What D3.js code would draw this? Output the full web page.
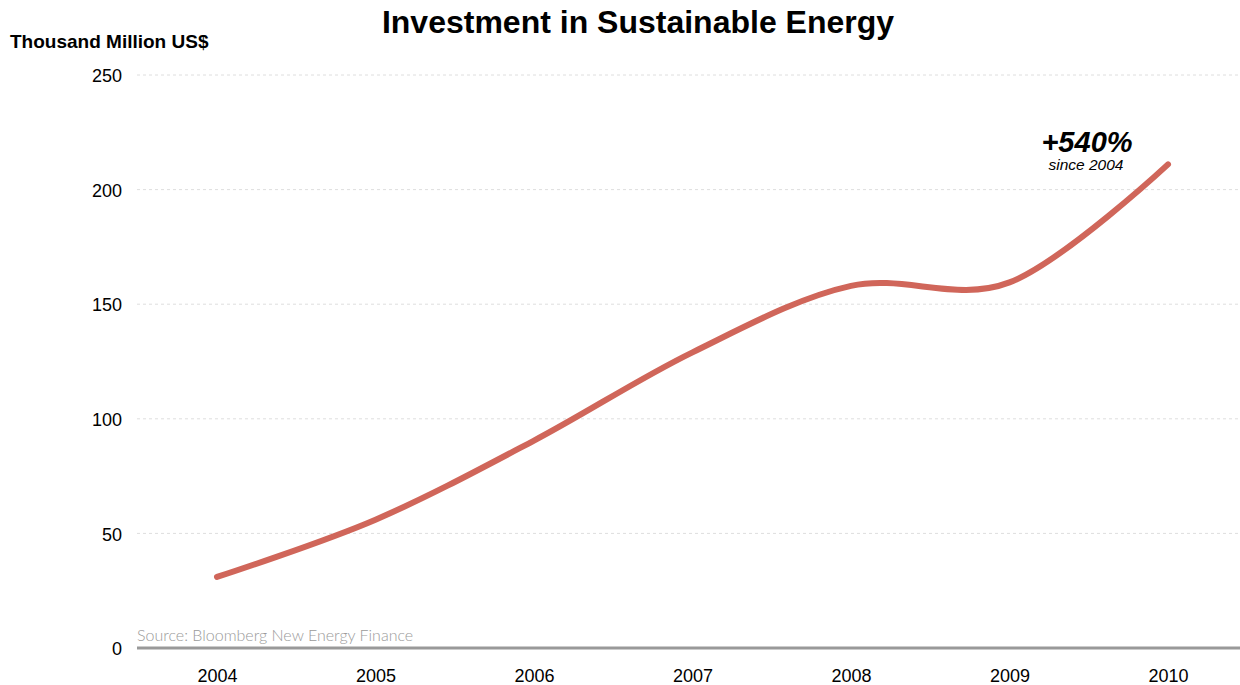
<!DOCTYPE html>
<html><head><meta charset="utf-8">
<script src="https://cdn.jsdelivr.net/npm/d3@7"></script>
<style>body{margin:0;background:#fff}svg{display:block}</style>
</head><body>
<script>
const years = ["2004","2005","2006","2007","2008","2009","2010"];
const investment = [31, 56, 90.5, 129, 158, 159.5, 211];
const yTicks = [0, 50, 100, 150, 200, 250];

const W = 1240, H = 685;
const svg = d3.select("body").append("svg").attr("width", W).attr("height", H);
const font = "Liberation Sans, Arial, sans-serif";

const x = d3.scalePoint().domain(years).range([217, 1168]);
const y = d3.scaleLinear().domain([0, 250]).range([648, 75]);

// gridlines
svg.append("g").selectAll("line").data(yTicks.filter(d => d > 0)).join("line")
  .attr("x1", 137).attr("x2", 1240)
  .attr("y1", d => y(d)).attr("y2", d => y(d))
  .attr("stroke", "#dedede").attr("stroke-width", 1).attr("stroke-dasharray", "3,3");

// y axis labels
const yAxis = d3.axisLeft(y).tickValues(yTicks).tickSize(0).tickPadding(0);
const ga = svg.append("g").attr("transform", "translate(122,1)").call(yAxis);
ga.select(".domain").remove();
ga.selectAll("text").attr("font-family", font).attr("font-size", 18).attr("fill", "#000");

// x axis
const xAxis = d3.axisBottom(x).tickSize(0).tickPadding(0);
const gx = svg.append("g").attr("transform", "translate(0,648)").call(xAxis);
gx.select(".domain").remove();
gx.selectAll("text").attr("font-family", font).attr("font-size", 18).attr("fill", "#000").attr("dy", "1.9em");
svg.append("line").attr("x1", 137).attr("x2", 1240).attr("y1", 648).attr("y2", 648)
  .attr("stroke", "#999").attr("stroke-width", 3);

// source
svg.append("text").attr("x", 137).attr("y", 641).text("Source: Bloomberg New Energy Finance")
  .attr("font-family", "Lato, Open Sans, sans-serif").attr("font-weight", 300).attr("font-size", 16).attr("fill", "#9a9a9a");

// line
const line = d3.line().x((d, i) => x(years[i])).y(d => y(d)).curve(d3.curveCardinal.tension(0));
svg.append("path").datum(investment).attr("d", line)
  .attr("fill", "none").attr("stroke", "#d0665a").attr("stroke-width", 6).attr("stroke-linecap", "round");

// title
svg.append("text").attr("x", 638).attr("y", 33).attr("text-anchor", "middle")
  .attr("font-family", font).attr("font-weight", "bold").attr("font-size", 32).text("Investment in Sustainable Energy");
svg.append("text").attr("x", 10).attr("y", 48)
  .attr("font-family", font).attr("font-weight", "bold").attr("font-size", 19).text("Thousand Million US$");

// annotation
svg.append("text").attr("x", 1087).attr("y", 152).attr("text-anchor", "middle")
  .attr("font-family", font).attr("font-weight", "bold").attr("font-style", "italic").attr("font-size", 29).text("+540%");
svg.append("text").attr("x", 1086).attr("y", 170).attr("text-anchor", "middle")
  .attr("font-family", font).attr("font-style", "italic").attr("font-size", 15.5).text("since 2004");
</script>
</body></html>
